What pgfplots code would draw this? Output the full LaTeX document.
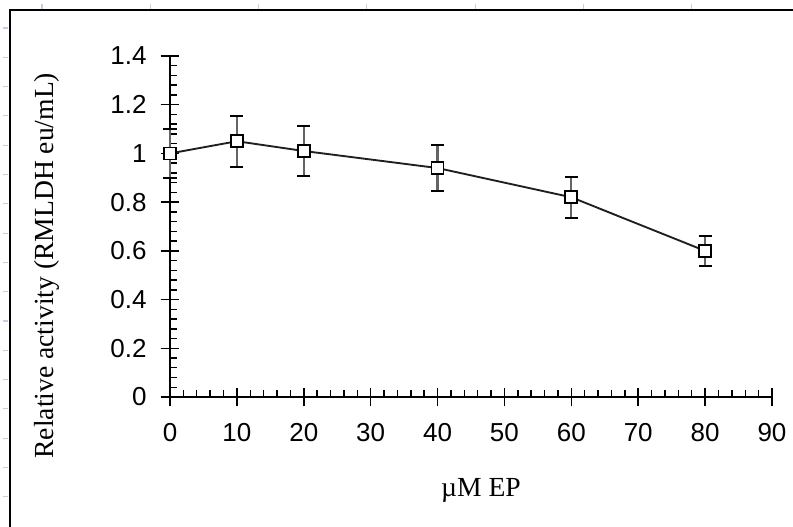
\documentclass[border=0pt]{standalone}
\usepackage{fontspec}
\setmainfont{Liberation Serif}
\setsansfont{Liberation Sans}
\usepackage{pgfplots}
\usepackage{pgfplotstable}
\pgfplotsset{compat=1.18}
\definecolor{faint}{RGB}{195,205,232}
\definecolor{ebar}{RGB}{100,100,100}
\pgfplotstableread{
x y e
0 1.00 0.10
10 1.05 0.105
20 1.01 0.103
40 0.94 0.094
60 0.82 0.084
80 0.60 0.061
}\datatable
\begin{document}
\begin{tikzpicture}
\useasboundingbox (0,0) rectangle (594.75pt,395.25pt);
\foreach \i in {0,...,6} \draw[faint, line width=0.8pt] ({(42+108.3*\i)*0.75pt},{(527-4)*0.75pt}) -- ++(0,-4pt);
\foreach \i in {0,...,16} \draw[faint, line width=0.8pt] ({3*0.75pt},{(527-28-29.3*\i)*0.75pt}) -- ++(4pt,0);
\draw[line width=1.5pt] (7.5pt,0) -- (7.5pt,387.4pt) -- (594.75pt,387.4pt);
\begin{axis}[
 at={(127.5pt,97.5pt)}, anchor=south west,
 scale only axis, width=451.5pt, height=255.75pt,
 xmin=0, xmax=90, ymin=0, ymax=1.4,
 axis lines=left, axis line style={-, line width=1.4pt},
 xtick={0,10,20,30,40,50,60,70,80,90},
 ytick={0,0.2,0.4,0.6,0.8,1,1.2,1.4},
 minor x tick num=4, minor y tick num=4,
 tick align=inside, major tick length=14pt, minor tick length=5pt,
 every tick/.style={black, line width=1.1pt},
 every major x tick/.append style={yshift=-7pt},
 every major y tick/.append style={xshift=-7pt},
 clip=false,
 tick label style={font=\sffamily\fontsize{19.5}{19.5}\selectfont, /pgf/number format/assume math mode=true},
 xticklabel style={yshift=-16pt},
 yticklabel style={xshift=-14pt},
]
\addplot[draw=none, mark=none, forget plot,
  error bars/.cd, y dir=both, y explicit,
  error bar style={ebar, line width=1.7pt},
  error mark options={rotate=90, mark size=4.9pt, black, line width=1.3pt}]
  table[x=x, y=y, y error=e] {\datatable};
\addplot[color=black!88, line width=1.4pt, mark=square*,
  mark size=4.5pt, mark options={fill=white, draw=black, line width=1.3pt, solid}]
  table[x=x, y=y] {\datatable};
\end{axis}
\node[rotate=90, font=\fontsize{20.7}{20.7}\selectfont] at (35.25pt,196pt) {Relative activity (RMLDH eu/mL)};
\node[font=\fontsize{20.7}{20.7}\selectfont] at (360.75pt,27.75pt) {µM EP};
\end{tikzpicture}
\end{document}
